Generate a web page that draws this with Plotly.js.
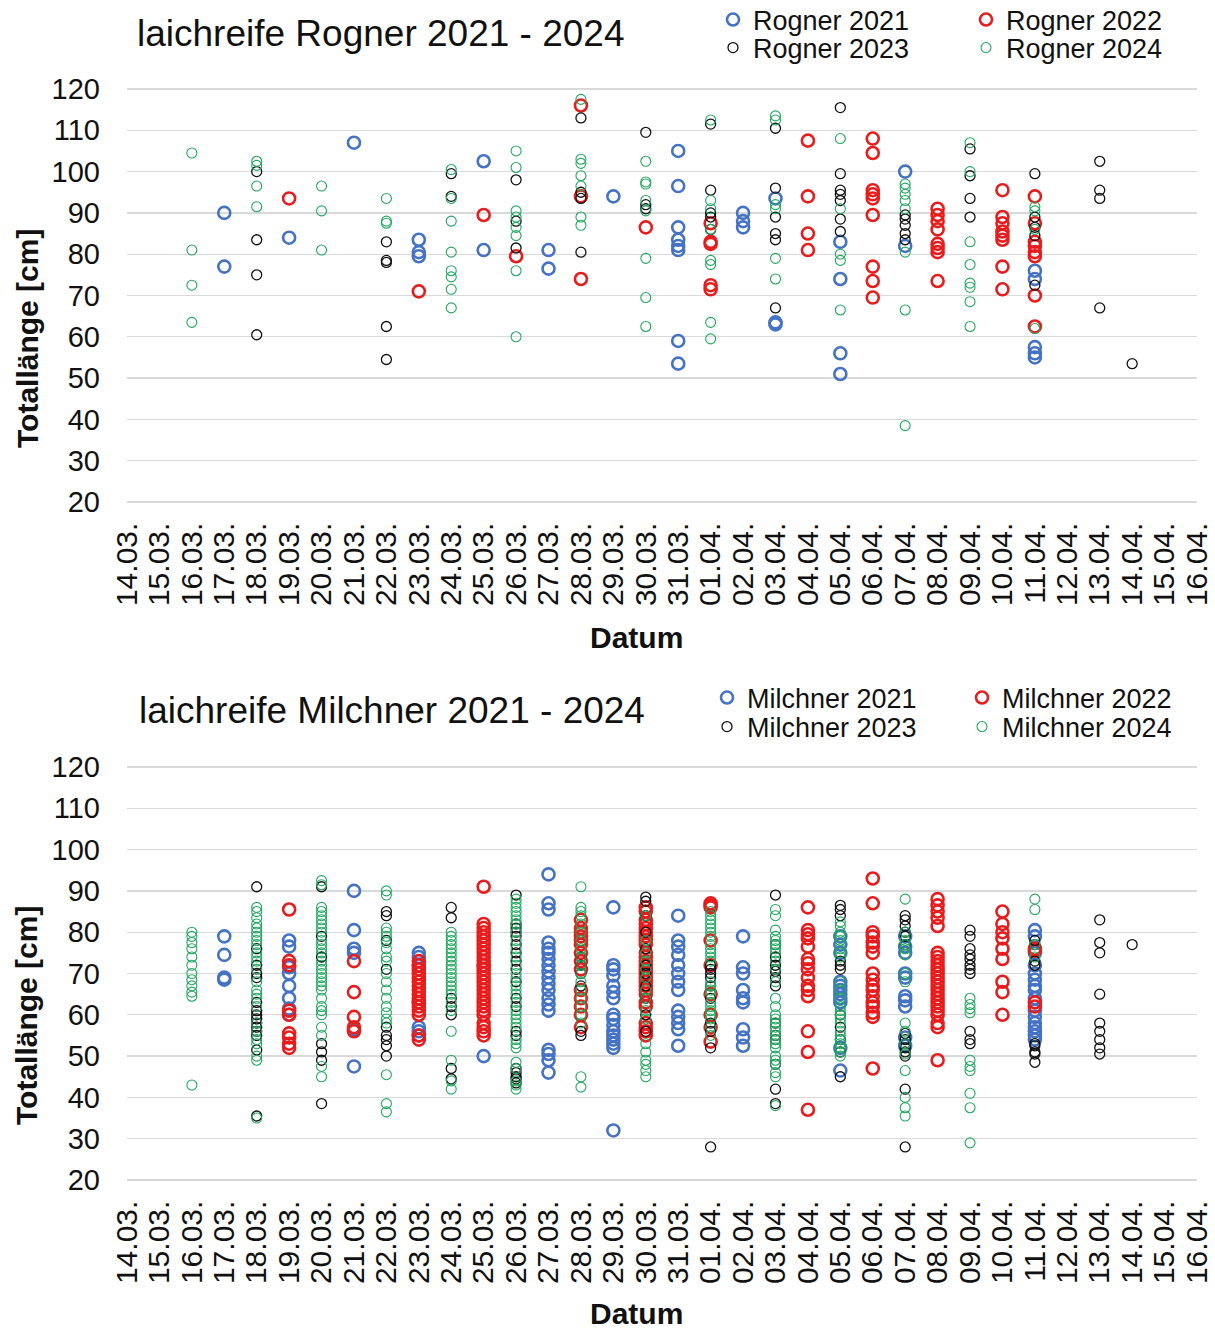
<!DOCTYPE html>
<html>
<head>
<meta charset="utf-8">
<script src="https://cdn.plot.ly/plotly-3.0.1.min.js"></script>
<style>
  html, body { margin: 0; padding: 0; background: #ffffff; overflow: hidden; }
  #chart { width: 1215px; height: 1329px; }
</style>
</head>
<body>
<div id="chart"></div>
<script>
// Date categories along the x axis (day.month.)
const dates = ['14.03.','15.03.','16.03.','17.03.','18.03.','19.03.','20.03.','21.03.','22.03.',
  '23.03.','24.03.','25.03.','26.03.','27.03.','28.03.','29.03.','30.03.','31.03.',
  '01.04.','02.04.','03.04.','04.04.','05.04.','06.04.','07.04.','08.04.','09.04.',
  '10.04.','11.04.','12.04.','13.04.','14.04.','15.04.','16.04.'];

const yTicks = [20, 30, 40, 50, 60, 70, 80, 90, 100, 110, 120];

// Total length [cm] of spawning-ready females, per date
const rogner2021 = {
  '17.03.': [90, 77], '19.03.': [84], '21.03.': [107], '23.03.': [83.5, 80.5, 79.5],
  '25.03.': [102.5, 81], '27.03.': [81, 76.5], '29.03.': [94],
  '31.03.': [105, 96.5, 86.5, 83.5, 82, 81, 59, 53.5], '02.04.': [90, 88, 86.5],
  '03.04.': [93.5, 63.5, 63], '05.04.': [83, 74, 56, 51], '07.04.': [100, 82],
  '11.04.': [76, 74, 57.5, 56, 55]
};
const rogner2022 = {
  '19.03.': [93.5], '23.03.': [71], '25.03.': [89.5], '26.03.': [79.5], '28.03.': [116, 94, 74],
  '30.03.': [86.5], '01.04.': [87.5, 83, 82.5, 72.5, 71.5], '04.04.': [107.5, 94, 85, 81],
  '06.04.': [108, 104.5, 95.5, 94.5, 93.5, 89.5, 77, 73.5, 69.5],
  '08.04.': [91, 89.5, 88, 86, 82.5, 81.5, 80.5, 73.5],
  '10.04.': [95.5, 89, 87.5, 85.5, 84.5, 83.5, 77, 71.5],
  '11.04.': [94, 87.5, 83, 82, 80.5, 79.5, 70, 62.5]
};
const rogner2023 = {
  '18.03.': [100, 83.5, 75, 60.5], '22.03.': [83, 78.5, 78, 62.5, 54.5], '24.03.': [99.5, 94],
  '26.03.': [98, 88, 81.5], '28.03.': [113, 95, 93.5, 80.5], '30.03.': [109.5, 92, 91],
  '01.04.': [111.5, 95.5, 90, 89, 86], '03.04.': [110.5, 96, 89, 85, 83.5, 67],
  '05.04.': [115.5, 99.5, 95.5, 94.5, 93, 88.5, 85.5], '07.04.': [89.5, 88.5, 87, 85, 83.5],
  '09.04.': [105.5, 99, 93.5, 89], '11.04.': [99.5, 89, 86.5, 84.5, 72.5],
  '13.04.': [102.5, 95.5, 93.5, 67], '14.04.': [53.5]
};
const rogner2024 = {
  '16.03.': [104.5, 81, 72.5, 63.5], '18.03.': [102.5, 101.5, 96.5, 91.5], '20.03.': [96.5, 90.5, 81],
  '22.03.': [93.5, 88, 87.5], '24.03.': [100.5, 93.5, 88, 80.5, 76, 74.5, 71.5, 67],
  '26.03.': [105, 101, 90.5, 89, 86.5, 84.5, 76, 60], '28.03.': [117.5, 103, 102, 99, 96.5, 89, 87],
  '30.03.': [102.5, 97.5, 97, 93, 90.5, 79, 69.5, 62.5],
  '01.04.': [112.5, 93, 91, 86, 78.5, 77.5, 63.5, 59.5], '03.04.': [113.5, 112.5, 92, 91, 79, 74],
  '05.04.': [108, 91, 80, 78.5, 66.5], '07.04.': [97, 96, 94.5, 93, 91, 80.5, 66.5, 38.5],
  '09.04.': [107, 100, 83, 77.5, 73, 72, 68.5, 62.5], '11.04.': [91.5, 90.5, 86, 62]
};

// Total length [cm] of spawning-ready males, per date
const milchner2021 = {
  '17.03.': [79, 74.5, 69, 68.5], '19.03.': [78, 76.5, 71.5, 70, 67, 64, 61.5, 60],
  '21.03.': [90, 80.5, 76, 75, 56.5, 47.5], '23.03.': [75, 74, 72, 63, 57, 56, 55], '25.03.': [72, 50],
  '27.03.': [94, 87, 85.5, 77.5, 76, 75, 73.5, 72, 70.5, 69, 67.5, 66, 64, 62.5, 61, 51.5, 50.5, 49, 46],
  '29.03.': [86, 72, 71, 69.5, 67, 65.5, 64, 60, 59, 57.5, 56, 55, 54, 53, 52, 32],
  '31.03.': [84, 78, 76.5, 74.5, 72, 70, 68, 66, 61, 59.5, 58, 56.5, 52.5],
  '02.04.': [79, 71.5, 70, 66, 64, 63, 56.5, 54.5, 52.5],
  '05.04.': [79, 77, 75, 68, 67, 66, 65, 64, 63, 52, 46.5],
  '07.04.': [79, 76.5, 75, 70, 69, 64.5, 63.5, 62, 54.5, 52.5],
  '11.04.': [80.5, 79, 75, 72, 70, 68.5, 67, 66, 64, 61, 59.5, 58, 57, 56, 55, 54]
};
const milchner2022 = {
  '19.03.': [85.5, 73, 72, 61, 60, 55.5, 54.5, 53, 52], '21.03.': [73, 65.5, 59.5, 57, 56],
  '23.03.': [73, 72, 71, 70, 69, 68, 67, 66, 65, 64, 63, 62, 61, 60, 55, 54],
  '25.03.': [91, 82, 81, 80, 79, 78, 77, 76, 75, 74, 73, 72, 71, 70, 69, 68, 67, 66, 65, 64, 63, 62, 61, 60, 58, 57, 56, 55],
  '28.03.': [83, 81, 80, 79, 78, 77, 75, 73, 71, 66, 64, 62, 60, 57],
  '30.03.': [86, 85, 83, 82, 81, 80, 79, 78, 77, 75, 74, 73, 72, 71, 70, 69, 68, 67, 66, 65, 63, 62, 58, 57, 56, 55],
  '01.04.': [87, 86.5, 86, 78, 72, 65, 60, 57, 53.5],
  '04.04.': [86, 80.5, 79.5, 78.5, 76.5, 73.5, 72.5, 71, 69, 67, 66, 64.5, 56, 51, 37],
  '06.04.': [93, 87, 80, 79, 77.5, 76.5, 75, 70, 68.5, 67, 66, 64.5, 63, 62, 60.5, 59.5, 47],
  '08.04.': [88, 86.5, 85, 83.5, 81.5, 75, 74, 73, 72, 71, 70, 69, 68, 67, 66, 65, 64, 63, 62, 61, 60, 58, 57, 49],
  '10.04.': [85, 82, 80, 78.5, 76, 73.5, 68, 65.5, 60],
  '11.04.': [76, 75.5, 63, 62]
};
const milchner2023 = {
  '18.03.': [91, 76, 72, 70, 69, 63, 61, 60, 59, 58, 57, 56, 55, 51.5, 35.5],
  '20.03.': [91, 79, 74, 53, 51, 49, 38.5], '22.03.': [85, 84, 78, 71, 57, 55, 54, 52.5, 50],
  '24.03.': [86, 83.5, 64, 62, 60, 47, 44.5],
  '26.03.': [89, 82, 81, 80, 79, 77, 75, 73, 71, 68, 64, 62, 56, 55, 47, 46, 45, 44.5, 43.5],
  '28.03.': [74, 72, 70, 67, 56, 55], '30.03.': [88.5, 87.5, 84, 80, 76, 72, 70, 67, 64, 60, 56],
  '01.04.': [72, 71, 70, 69, 67, 64, 58, 56, 52, 28],
  '03.04.': [89, 77, 74, 72, 71, 70.5, 69, 67, 58, 55, 54, 48, 42, 38.5],
  '05.04.': [86.5, 85.5, 84, 73, 72, 71, 60, 57, 54, 51, 45],
  '07.04.': [84, 83, 81.5, 80, 79, 77, 55.5, 54, 53, 52, 51, 50, 42, 28],
  '09.04.': [80.5, 79, 76, 74.5, 73.5, 72, 71, 70, 56, 54, 53],
  '11.04.': [78, 77, 73, 72, 53, 52.5, 51, 50.5, 48.5],
  '13.04.': [83, 77.5, 75, 65, 58, 56, 54, 52, 50.5], '14.04.': [77]
};
const milchner2024 = {
  '16.03.': [80, 79, 77.5, 76, 74, 72, 70, 68.5, 67, 65.5, 64.5, 43],
  '18.03.': [86, 85, 83.5, 82, 81, 80, 79, 78, 77, 75, 74, 73, 71, 68, 66, 65, 64, 62, 58, 56, 54, 53, 50, 49, 35],
  '20.03.': [92.5, 91.5, 86, 85, 84, 83, 82, 81, 80, 78, 77, 76, 75, 73, 72, 71, 70, 69, 68, 67, 66, 64, 62, 61, 60, 57, 55, 47.5, 45],
  '22.03.': [90, 89, 81, 80, 79, 77.5, 76, 74, 73, 70, 68, 66, 64, 62, 60.5, 59, 58, 45.5, 38.5, 36.5],
  '24.03.': [80, 79, 78, 77, 76, 75, 74, 73, 72, 71, 70, 69, 68, 67, 66, 65, 63, 61, 56, 49, 44, 42],
  '26.03.': [88, 87, 86, 85, 84, 83, 82, 80, 78, 76, 74, 72, 70, 69, 67, 66, 65, 63, 61, 60, 59, 58, 57, 54, 53, 52, 48.5, 47, 44, 43, 42],
  '28.03.': [91, 86, 85, 84, 82, 80, 78, 76, 74, 72, 70, 68, 66, 64, 62, 60, 58, 45, 42.5],
  '30.03.': [84, 78, 75, 73, 71, 69, 66, 64, 61, 59, 53, 51, 49, 48, 46.5, 45],
  '01.04.': [85, 84, 83, 82, 81, 80, 79, 77, 76, 75, 74, 73, 68, 67, 66, 65, 63, 62, 61, 60, 59, 57, 55],
  '03.04.': [85.5, 84, 80.5, 79, 78, 77, 76, 75, 73, 71, 68, 64, 62, 60, 59, 58, 57, 56, 55, 54, 53, 52, 50, 49, 48, 46, 45, 38],
  '05.04.': [82.5, 81.5, 80, 79, 78, 76, 75, 74, 68, 66, 64, 62, 61, 60, 59, 58, 56, 55, 54, 53, 52, 51, 50],
  '07.04.': [88, 80, 78, 77, 76, 74.5, 70, 68, 58, 56, 53, 50.5, 46.5, 40, 37.5, 35.5],
  '09.04.': [64, 62.5, 61.5, 60.5, 49, 47.5, 46.5, 41, 37.5, 29],
  '11.04.': [88, 85.5, 77, 74]
};

const FONT = 'Arial, "Liberation Sans", sans-serif';
const W = 1215, H = 1329;
const px = v => v / W;          // horizontal pixel -> paper fraction
const py = v => 1 - v / H;      // vertical pixel -> paper fraction

// Marker styles per season
const styles = {
  2021: { color: '#4472C4', size: 12, width: 2.6 },
  2022: { color: '#E81C1C', size: 12, width: 2.6 },
  2023: { color: '#111111', size: 10, width: 1.3 },
  2024: { color: '#22A860', size: 10, width: 1.1 }
};

function points(byDate) {
  const x = [], y = [];
  dates.forEach(d => {
    (byDate[d] || []).forEach(v => { x.push(d); y.push(v); });
  });
  return { x, y };
}

function trace(byDate, name, year, xa, ya, legendId) {
  const p = points(byDate);
  const s = styles[year];
  return {
    type: 'scatter', mode: 'markers', name: name,
    x: p.x, y: p.y, xaxis: xa, yaxis: ya, legend: legendId,
    marker: { symbol: 'circle-open', size: s.size, color: s.color, line: { width: s.width, color: s.color } },
    hoverinfo: 'x+y+name'
  };
}

// each series gets its own single-entry legend, laid out as a 2x2 block per chart
const data = [
  trace(rogner2021, 'Rogner 2021', 2021, 'x', 'y', 'legend'),
  trace(rogner2022, 'Rogner 2022', 2022, 'x', 'y', 'legend2'),
  trace(rogner2023, 'Rogner 2023', 2023, 'x', 'y', 'legend3'),
  trace(rogner2024, 'Rogner 2024', 2024, 'x', 'y', 'legend4'),
  trace(milchner2021, 'Milchner 2021', 2021, 'x2', 'y2', 'legend5'),
  trace(milchner2022, 'Milchner 2022', 2022, 'x2', 'y2', 'legend6'),
  trace(milchner2023, 'Milchner 2023', 2023, 'x2', 'y2', 'legend7'),
  trace(milchner2024, 'Milchner 2024', 2024, 'x2', 'y2', 'legend8')
];

// value range padded a little so the 20 and 120 grid lines are kept
const yMin = 19.6, yMax = 120.4;
const unitPx = 4.13;
const plotLeft = 127, plotRight = 1197;
const topArea = { top: 89 - (yMax - 120) * unitPx, bottom: 502 + (20 - yMin) * unitPx };
const botArea = { top: 767 - (yMax - 120) * unitPx, bottom: 1180 + (20 - yMin) * unitPx };

function xAxis(anchor) {
  return {
    type: 'category', categoryorder: 'array', categoryarray: dates,
    range: [0, dates.length - 1], domain: [px(plotLeft), px(plotRight)], anchor: anchor,
    tickmode: 'array', tickvals: dates, ticktext: dates, tickangle: -90,
    tickfont: { family: FONT, size: 30, color: '#111' },
    ticks: '', showgrid: false, showline: false, zeroline: false,
    ticklabelstandoff: 12, automargin: false, fixedrange: true
  };
}
function yAxis(anchor, area) {
  return {
    range: [yMin, yMax], domain: [py(area.bottom), py(area.top)], anchor: anchor,
    tickmode: 'array', tickvals: yTicks, ticktext: yTicks.map(String),
    tickfont: { family: FONT, size: 29, color: '#111' },
    ticks: '', showgrid: true, gridcolor: '#d9d9d9', gridwidth: 1.3,
    showline: false, zeroline: false, ticklabelstandoff: 26, automargin: false, fixedrange: true
  };
}
function legendBox(xPix, yPix) {
  return {
    x: px(xPix), y: py(yPix), xanchor: 'left', yanchor: 'middle',
    orientation: 'h',
    font: { family: FONT, size: 27, color: '#111' },
    bgcolor: 'rgba(0,0,0,0)', borderwidth: 0, itemclick: false, itemdoubleclick: false
  };
}

const annoFont = { family: FONT, size: 30, color: '#111', weight: 'bold' };

const layout = {
  width: W, height: H,
  margin: { l: 0, r: 0, t: 0, b: 0, autoexpand: false },
  paper_bgcolor: '#ffffff', plot_bgcolor: '#ffffff',
  showlegend: true,
  title: {
    text: 'laichreife Rogner 2021 - 2024', xref: 'paper', yref: 'paper',
    x: px(137), xanchor: 'left', y: py(33), yanchor: 'middle',
    font: { family: FONT, size: 37, color: '#111' }
  },
  xaxis: xAxis('y'),
  yaxis: yAxis('x', topArea),
  xaxis2: xAxis('y2'),
  yaxis2: yAxis('x2', botArea),
  legend: legendBox(713, 20),
  legend2: legendBox(966, 20),
  legend3: legendBox(713, 48),
  legend4: legendBox(966, 48),
  legend5: legendBox(707, 698),
  legend6: legendBox(962, 698),
  legend7: legendBox(707, 727),
  legend8: legendBox(962, 727),
  annotations: [
    { text: 'laichreife Milchner 2021 - 2024', xref: 'paper', yref: 'paper',
      x: px(137), y: py(710), xanchor: 'left', yanchor: 'middle', showarrow: false,
      font: { family: FONT, size: 37, color: '#111' } },
    { text: 'Totallänge [cm]', xref: 'paper', yref: 'paper', textangle: -90,
      x: px(27), y: py(339), xanchor: 'center', yanchor: 'middle', showarrow: false, font: annoFont },
    { text: 'Totallänge [cm]', xref: 'paper', yref: 'paper', textangle: -90,
      x: px(27), y: py(1016), xanchor: 'center', yanchor: 'middle', showarrow: false, font: annoFont },
    { text: 'Datum', xref: 'paper', yref: 'paper',
      x: px(636), y: py(637), xanchor: 'center', yanchor: 'middle', showarrow: false, font: annoFont },
    { text: 'Datum', xref: 'paper', yref: 'paper',
      x: px(636), y: py(1313), xanchor: 'center', yanchor: 'middle', showarrow: false, font: annoFont }
  ]
};

Plotly.newPlot('chart', data, layout, { staticPlot: true, displayModeBar: false });
</script>
</body>
</html>
